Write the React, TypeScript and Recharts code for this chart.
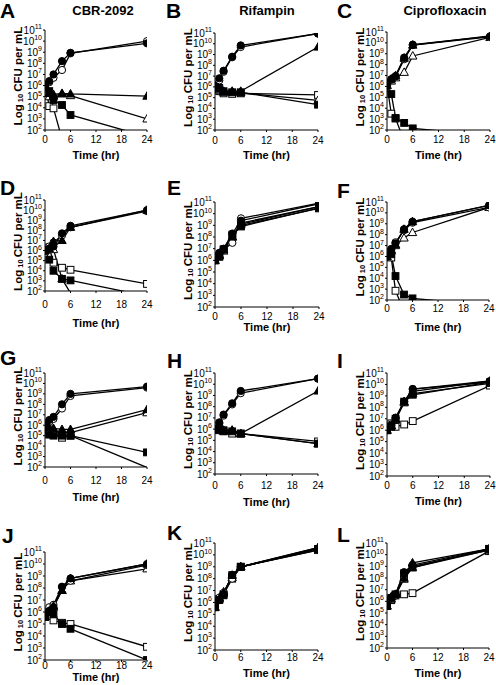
import React from "react";
import { Line, LineChart, XAxis, YAxis } from "recharts";

const FONT = "'Liberation Sans', Arial, Helvetica, sans-serif";

const TIMES = [0, 1, 2, 4, 6, 24];
const X_TICKS = [0, 6, 12, 18, 24];
const Y_TICKS = [2, 3, 4, 5, 6, 7, 8, 9, 10, 11];
const COLUMN_TITLES = ["CBR-2092", "Rifampin", "Ciprofloxacin"];
const PANEL_LETTERS = ["A", "B", "C", "D", "E", "F", "G", "H", "I", "J", "K", "L"];

// log10 CFU per mL at each sample time; values under 2 run off the bottom of the axis
const panelA = {
  fc: [6.05, 6.4, 7.0, 8.2, 8.95, 9.8],
  oc: [6.05, 6.3, 6.7, 7.4, 8.9, 10.0],
  ft: [6.0, 5.3, 5.2, 5.3, 5.25, 5.05],
  ot: [6.0, 5.0, 5.05, 5.25, 5.1, 3.0],
  fs: [6.0, 5.5, 4.7, 4.25, 3.35, 1.4],
  os: [6.0, 4.15, 3.95, 1.2, null, null],
};
const panelB = {
  fc: [6.1, 6.8, 7.5, 8.8, 9.85, 10.95],
  oc: [6.1, 6.6, 7.4, 8.75, 9.7, 10.95],
  ft: [6.1, 5.8, 5.6, 5.6, 5.6, 9.7],
  ot: [6.1, 5.7, 5.5, 5.55, 5.45, 4.75],
  fs: [6.0, 5.9, 5.6, 5.5, 5.5, 4.35],
  os: [6.0, 5.6, 5.4, 5.35, 5.4, 5.25],
};
const panelC = {
  fc: [6.1, 6.67, 6.95, 8.65, 9.84, 10.6],
  oc: [6.1, 6.6, 6.9, 8.5, 9.8, 10.55],
  ft: [6.1, 6.7, 7.0, 8.6, 9.8, 10.65],
  ot: [6.1, 6.5, 6.8, 7.3, 8.8, 10.5],
  fs: [6.1, 5.3, 3.1, 2.65, 2.15, 1.5],
  os: [6.1, 3.5, 3.05, 1.0, null, null],
};
const panelD = {
  fc: [6.0, 6.2, 6.4, 7.7, 8.45, 10.0],
  oc: [6.0, 6.4, 6.8, 7.5, 8.3, 9.9],
  ft: [6.0, 6.2, 6.9, 7.0, 8.3, 10.0],
  ot: [6.0, 6.3, 6.1, 3.2, 1.8, null],
  fs: [6.0, 5.1, 4.0, 3.2, 3.05, 1.5],
  os: [6.0, 6.3, 4.8, 4.3, 4.1, 2.7],
};
const panelE = {
  fc: [6.0, 6.6, 7.0, 8.3, 9.4, 10.85],
  oc: [6.0, 6.65, 6.9, 7.5, 9.6, 10.9],
  ft: [6.0, 6.4, 6.9, 8.0, 9.2, 10.6],
  ot: [6.0, 6.5, 6.8, 8.0, 9.1, 10.6],
  fs: [6.0, 6.3, 6.95, 8.2, 8.9, 10.5],
  os: [6.0, 6.4, 6.9, 8.1, 9.0, 10.45],
};
const panelF = {
  fc: [6.0, 6.65, 7.2, 8.5, 9.2, 10.7],
  oc: [6.0, 6.7, 7.3, 8.4, 9.1, 10.5],
  ft: [6.0, 6.6, 7.1, 8.5, 9.2, 10.7],
  ot: [6.0, 6.5, 7.0, 7.7, 8.2, 10.5],
  fs: [6.0, 6.2, 4.2, 2.5, 2.15, 1.5],
  os: [6.0, 5.9, 2.85, 1.0, null, null],
};
const panelG = {
  fc: [6.0, 6.5, 6.8, 8.0, 9.0, 9.7],
  oc: [6.0, 6.3, 6.6, 7.6, 8.8, 9.6],
  ft: [6.0, 5.8, 5.7, 5.6, 5.6, 7.5],
  ot: [6.0, 5.5, 5.4, 5.3, 5.3, 7.2],
  fs: [6.0, 5.1, 5.0, 5.0, 5.0, 3.4],
  os: [6.0, 5.2, 5.1, 4.8, 5.0, 1.95],
};
const panelH = {
  fc: [6.0, 6.6, 7.3, 8.3, 9.4, 10.5],
  oc: [6.0, 6.5, 7.2, 8.2, 9.2, 10.5],
  ft: [6.0, 6.0, 5.9, 5.9, 5.6, 9.4],
  ot: [6.0, 5.9, 5.8, 5.9, 5.6, 4.7],
  fs: [6.0, 6.0, 5.9, 5.8, 5.6, 4.7],
  os: [6.0, 5.9, 5.8, 5.6, 5.6, 4.9],
};
const panelI = {
  fc: [6.0, 6.4, 7.1, 8.5, 9.6, 10.3],
  oc: [6.0, 6.5, 7.0, 8.5, 9.6, 10.2],
  ft: [6.0, 6.4, 7.0, 8.5, 9.4, 10.3],
  ot: [6.0, 6.4, 6.9, 8.4, 9.2, 10.1],
  fs: [6.0, 6.3, 7.0, 8.5, 9.1, 10.2],
  os: [6.0, 6.6, 6.3, 6.5, 6.8, 9.9],
};
const panelJ = {
  fc: [5.6, 6.1, 6.4, 8.1, 8.8, 10.0],
  oc: [5.6, 6.4, 6.6, 8.1, 8.6, 9.9],
  ft: [5.6, 6.1, 6.5, 7.8, 8.8, 10.0],
  ot: [5.6, 6.2, 6.4, 7.8, 8.6, 9.6],
  fs: [5.6, 6.0, 5.8, 5.0, 4.6, 2.0],
  os: [5.6, 5.7, 5.3, 5.1, 5.0, 3.1],
};
const panelK = {
  fc: [5.6, 6.2, 6.7, 8.3, 9.0, 10.5],
  oc: [5.6, 6.4, 6.8, 8.0, 9.0, 10.4],
  ft: [5.6, 6.3, 6.8, 8.3, 9.0, 10.6],
  ot: [5.6, 6.4, 6.9, 8.1, 9.0, 10.6],
  fs: [5.6, 6.2, 6.6, 8.3, 9.0, 10.5],
  os: [5.6, 6.3, 6.7, 8.0, 9.0, 10.4],
};
const panelL = {
  fc: [5.6, 6.3, 6.6, 8.5, 9.1, 10.5],
  oc: [5.6, 6.2, 6.5, 8.0, 9.0, 10.4],
  ft: [5.6, 6.4, 6.6, 8.0, 9.3, 10.5],
  ot: [5.6, 6.2, 6.6, 7.9, 8.9, 10.4],
  fs: [5.6, 6.3, 6.6, 8.4, 8.9, 10.5],
  os: [5.6, 6.1, 6.5, 6.6, 6.7, 10.3],
};

const PANELS = [panelA, panelB, panelC, panelD, panelE, panelF, panelG, panelH, panelI, panelJ, panelK, panelL];

// drawn in this order, open markers first
const SERIES = [
  { key: "os", shape: "square", filled: false },
  { key: "ot", shape: "triangle", filled: false },
  { key: "oc", shape: "circle", filled: false },
  { key: "fs", shape: "square", filled: true },
  { key: "ft", shape: "triangle", filled: true },
  { key: "fc", shape: "circle", filled: true },
];

// plot box of each panel on the page, and how far below the axis the tick row / axis title sit
const PLOTS = [
  { x: 45, y: 30, w: 102, h: 100, tickGap: 9, titleGap: 25 },
  { x: 215, y: 33, w: 103, h: 97, tickGap: 10, titleGap: 25 },
  { x: 387, y: 32, w: 103, h: 98, tickGap: 9, titleGap: 25 },
  { x: 45, y: 200, w: 102, h: 91, tickGap: 13, titleGap: 32 },
  { x: 215, y: 202, w: 104, h: 105, tickGap: 9, titleGap: 20 },
  { x: 387, y: 202, w: 102, h: 98, tickGap: 8, titleGap: 27 },
  { x: 45, y: 373, w: 102, h: 94, tickGap: 13, titleGap: 30 },
  { x: 215, y: 373, w: 103, h: 101, tickGap: 11, titleGap: 28 },
  { x: 387, y: 373, w: 103, h: 103, tickGap: 9, titleGap: 25 },
  { x: 45, y: 552, w: 102, h: 108, tickGap: 5, titleGap: 17 },
  { x: 215, y: 543, w: 103, h: 107, tickGap: 7, titleGap: 23 },
  { x: 387, y: 543, w: 102, h: 105, tickGap: 9, titleGap: 25 },
];

const LETTER_POS = [
  [0, 18], [166, 18], [337, 18],
  [0, 195], [167, 195], [337, 198],
  [0, 365], [167, 368], [337, 368],
  [2, 543], [167, 540], [337, 542],
];
const TITLE_POS = [
  [103, 15], [267, 15], [445, 15],
];

const Y_AXIS_W = 45;
const M_TOP = 8;
const M_RIGHT = 8;

function markerRenderer(shape: string, filled: boolean) {
  return (props: any) => {
    const { cx, cy, value, index } = props;
    const key = `m-${index}`;
    if (cx == null || cy == null || value == null || value < 2) return <g key={key} />;
    const fill = filled ? "#000" : "#fff";
    if (shape === "circle") {
      return <circle key={key} cx={cx} cy={cy} r={3.6} fill={fill} stroke="#000" strokeWidth={1} />;
    }
    if (shape === "square") {
      return (
        <rect key={key} x={cx - 3.4} y={cy - 3.4} width={6.8} height={6.8} fill={fill} stroke="#000" strokeWidth={1} />
      );
    }
    return (
      <polygon
        key={key}
        points={`${cx},${cy - 4.4} ${cx + 4.2},${cy + 3.1} ${cx - 4.2},${cy + 3.1}`}
        fill={fill}
        stroke="#000"
        strokeWidth={1}
      />
    );
  };
}

function YTick(props: any) {
  const { x, y, payload } = props;
  return (
    <text x={x} y={y + 3.5} textAnchor="end" fontFamily={FONT} fontSize={10} fill="#000">
      10
      <tspan dy={-4.5} fontSize={7}>
        {payload.value}
      </tspan>
    </text>
  );
}

function XTick(props: any) {
  const { x, payload, baseline } = props;
  return (
    <text x={x} y={baseline} textAnchor="middle" fontFamily={FONT} fontSize={10} fill="#000">
      {payload.value}
    </text>
  );
}

function XTitle(props: any) {
  const { cx, baseline } = props;
  return (
    <text x={cx} y={baseline} textAnchor="middle" fontFamily={FONT} fontSize={11} fontWeight="bold" fill="#000">
      Time (hr)
    </text>
  );
}

function YTitle(props: any) {
  const { cx, cy } = props;
  return (
    <text
      x={cx}
      y={cy}
      transform={`rotate(-90 ${cx} ${cy})`}
      textAnchor="middle"
      dominantBaseline="central"
      fontFamily={FONT}
      fontSize={11.5}
      fontWeight="bold"
      fill="#000"
    >
      Log
      <tspan fontSize={7.5} dy={2}>
        {" 10 "}
      </tspan>
      <tspan dy={-2}>CFU per mL</tspan>
    </text>
  );
}

function Panel({ idx }: { idx: number }) {
  const p = PLOTS[idx];
  const values = PANELS[idx] as Record<string, (number | null)[]>;
  const data = TIMES.map((t, i) => {
    const row: Record<string, number | null> = { t };
    SERIES.forEach((s) => {
      row[s.key] = values[s.key][i];
    });
    return row;
  });
  const xAxisH = p.titleGap + 8;
  const width = Y_AXIS_W + p.w + M_RIGHT;
  const height = M_TOP + p.h + xAxisH;
  const axisY = M_TOP + p.h;

  return (
    <div style={{ position: "absolute", left: p.x - Y_AXIS_W, top: p.y - M_TOP }}>
      <LineChart width={width} height={height} data={data} margin={{ top: M_TOP, right: M_RIGHT, bottom: 0, left: 0 }}>
        <XAxis
          dataKey="t"
          type="number"
          domain={[0, 24]}
          ticks={X_TICKS}
          interval={0}
          allowDataOverflow
          height={xAxisH}
          stroke="#000"
          tickSize={2}
          tickMargin={0}
          tick={<XTick baseline={axisY + p.tickGap + 3.5} />}
          label={<XTitle cx={Y_AXIS_W + p.w / 2} baseline={axisY + p.titleGap + 4} />}
        />
        <YAxis
          type="number"
          domain={[2, 11]}
          ticks={Y_TICKS}
          interval={0}
          allowDataOverflow
          width={Y_AXIS_W}
          stroke="#000"
          tickSize={2}
          tickMargin={1}
          tick={<YTick />}
          label={<YTitle cx={Y_AXIS_W - 27} cy={M_TOP + p.h / 2 - 4} />}
        />
        {SERIES.map((s) => (
          <Line
            key={s.key}
            dataKey={s.key}
            type="linear"
            stroke="#000"
            strokeWidth={1.3}
            dot={markerRenderer(s.shape, s.filled)}
            activeDot={false}
            isAnimationActive={false}
          />
        ))}
      </LineChart>
    </div>
  );
}

export default function App() {
  return (
    <div style={{ position: "absolute", left: 0, top: 0, width: 496, height: 685, background: "#fff" }}>
      {PLOTS.map((_, i) => (
        <Panel key={i} idx={i} />
      ))}
      <svg width={496} height={685} style={{ position: "absolute", left: 0, top: 0, pointerEvents: "none" }}>
        {PANEL_LETTERS.map((letter, i) => (
          <text
            key={letter}
            x={LETTER_POS[i][0]}
            y={LETTER_POS[i][1]}
            fontFamily={FONT}
            fontSize={21}
            fontWeight="bold"
            fill="#000"
          >
            {letter}
          </text>
        ))}
        {COLUMN_TITLES.map((title, i) => (
          <text
            key={title}
            x={TITLE_POS[i][0]}
            y={TITLE_POS[i][1]}
            textAnchor="middle"
            fontFamily={FONT}
            fontSize={13}
            fontWeight="bold"
            fill="#000"
          >
            {title}
          </text>
        ))}
      </svg>
    </div>
  );
}
